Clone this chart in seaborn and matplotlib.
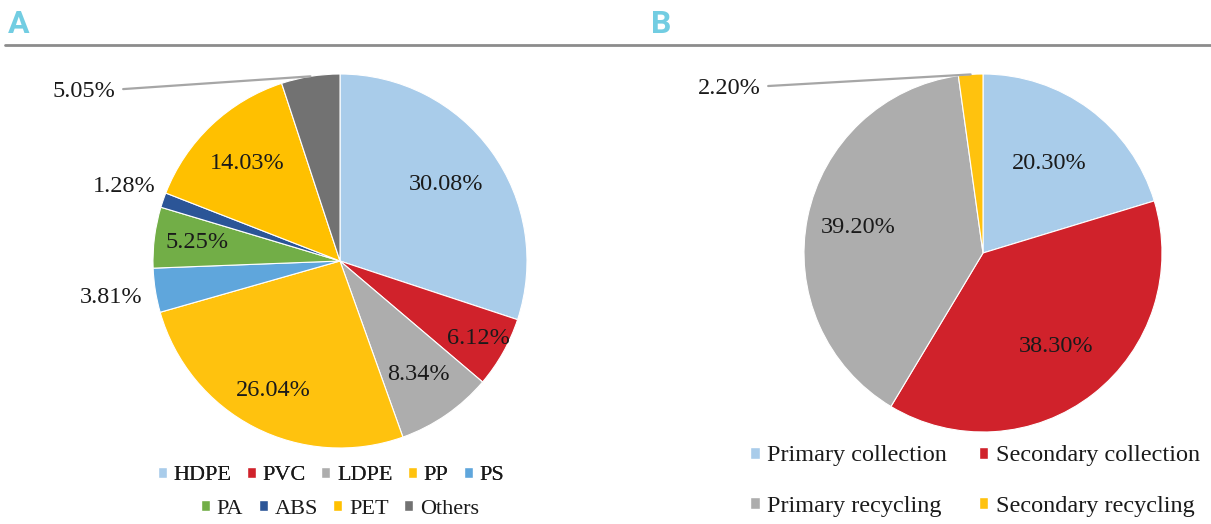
import numpy as np
import matplotlib.pyplot as plt
import seaborn as sns
from matplotlib.lines import Line2D
from matplotlib.patches import Patch

sns.set_theme(style="white")
plt.rcParams['font.family'] = ['Liberation Serif', 'DejaVu Serif']

# Panel A: share of plastic types
types = ['HDPE', 'PVC', 'LDPE', 'PP', 'PS', 'PA', 'ABS', 'PET', 'Others']
type_share = [30.08, 6.12, 8.34, 26.04, 3.81, 5.25, 1.28, 14.03, 5.05]
type_colors = ['#A9CCEA', '#D0222B', '#ADADAD', '#FFC20E', '#5FA6DC',
               '#72AE47', '#2B5597', '#FFC000', '#727272']

# Panel B: share by stage
stages = ['Primary collection', 'Secondary collection',
          'Primary recycling', 'Secondary recycling']
stage_share = [20.30, 38.30, 39.20, 2.20]
stage_colors = ['#A9CCEA', '#D0222B', '#ADADAD', '#FFC20E']

W, H = 1211, 524
K = 1.8
fig = plt.figure(figsize=(W / 100, H / 100), dpi=100)


def pie_axes(cx, cy, r):
    # square axes whose unit circle is r pixels wide, centred at (cx, cy) from top-left
    s = 2 * r * K
    return fig.add_axes([(cx - s / 2) / W, (H - cy - s / 2) / H, s / W, s / H])


def draw_pie(ax, values, colors, label_r, callouts):
    wedges, _ = ax.pie(values, colors=colors, startangle=90, counterclock=False,
                       wedgeprops=dict(edgecolor='white', linewidth=0.8))
    for i, (w, v) in enumerate(zip(wedges, values)):
        mid = np.deg2rad((w.theta1 + w.theta2) / 2)
        txt = f'{v:.2f}%'
        if i in callouts:
            ang, rr = callouts[i]
            a = np.deg2rad(ang)
            ax.annotate(txt, xy=(np.cos(mid), np.sin(mid)),
                        xytext=(rr * np.cos(a), rr * np.sin(a)),
                        ha='center', va='center', fontsize=17.5, color='#1a1a1a',
                        annotation_clip=False,
                        arrowprops=dict(arrowstyle='-', color='#a6a6a6', lw=1.6,
                                        shrinkA=3, shrinkB=0))
        else:
            rr = label_r[i]
            ax.text(rr * np.cos(mid), rr * np.sin(mid), txt, ha='center', va='center',
                    fontsize=17.5, color='#1a1a1a')
    ax.set_xlim(-K, K)
    ax.set_ylim(-K, K)
    ax.axis('off')


ax_a = pie_axes(340, 261, 187)
draw_pie(ax_a, type_share, type_colors,
         [0.70, 0.85, 0.74, 0.78, 1.24, 0.77, 1.22, 0.72, None],
         {8: (146.5, 1.64)})

ax_b = pie_axes(983, 253, 179)
draw_pie(ax_b, stage_share, stage_colors,
         [0.62, 0.66, 0.71, None],
         {3: (147, 1.69)})

# header letters and rule
fig.add_artist(Line2D([5 / W, 1], [1 - 45 / H] * 2, transform=fig.transFigure,
                      color='#8c8c8c', lw=2))
for x, letter in [(8, 'A'), (651, 'B')]:
    fig.text(x / W, 1 - 24 / H, letter, ha='left', va='center', fontsize=23,
             fontweight='bold', fontfamily='Roboto', color='#72CDE2')

# legends
leg_kw = dict(loc='center', frameon=False, handlelength=0.4, handleheight=0.4,
              handletextpad=0.3, borderpad=0, labelcolor='#1a1a1a')
row1 = [Patch(facecolor=c, label=t) for t, c in zip(types[:5], type_colors[:5])]
row2 = [Patch(facecolor=c, label=t) for t, c in zip(types[5:], type_colors[5:])]
fig.legend(handles=row1, ncol=5, bbox_to_anchor=(331 / W, 1 - 476 / H),
           fontsize=16, columnspacing=0.7, **leg_kw)
fig.add_artist(fig.legends[-1])
fig.legend(handles=row2, ncol=4, bbox_to_anchor=(340 / W, 1 - 509 / H),
           fontsize=16, columnspacing=0.7, **leg_kw)

order = [0, 2, 1, 3]
hb = [Patch(facecolor=stage_colors[i], label=stages[i]) for i in order]
fig.legend(handles=hb, ncol=2, bbox_to_anchor=(975 / W, 1 - 481 / H),
           fontsize=17.5, columnspacing=1.3, labelspacing=1.2, **leg_kw)

fig.savefig('out.png', dpi=100)
